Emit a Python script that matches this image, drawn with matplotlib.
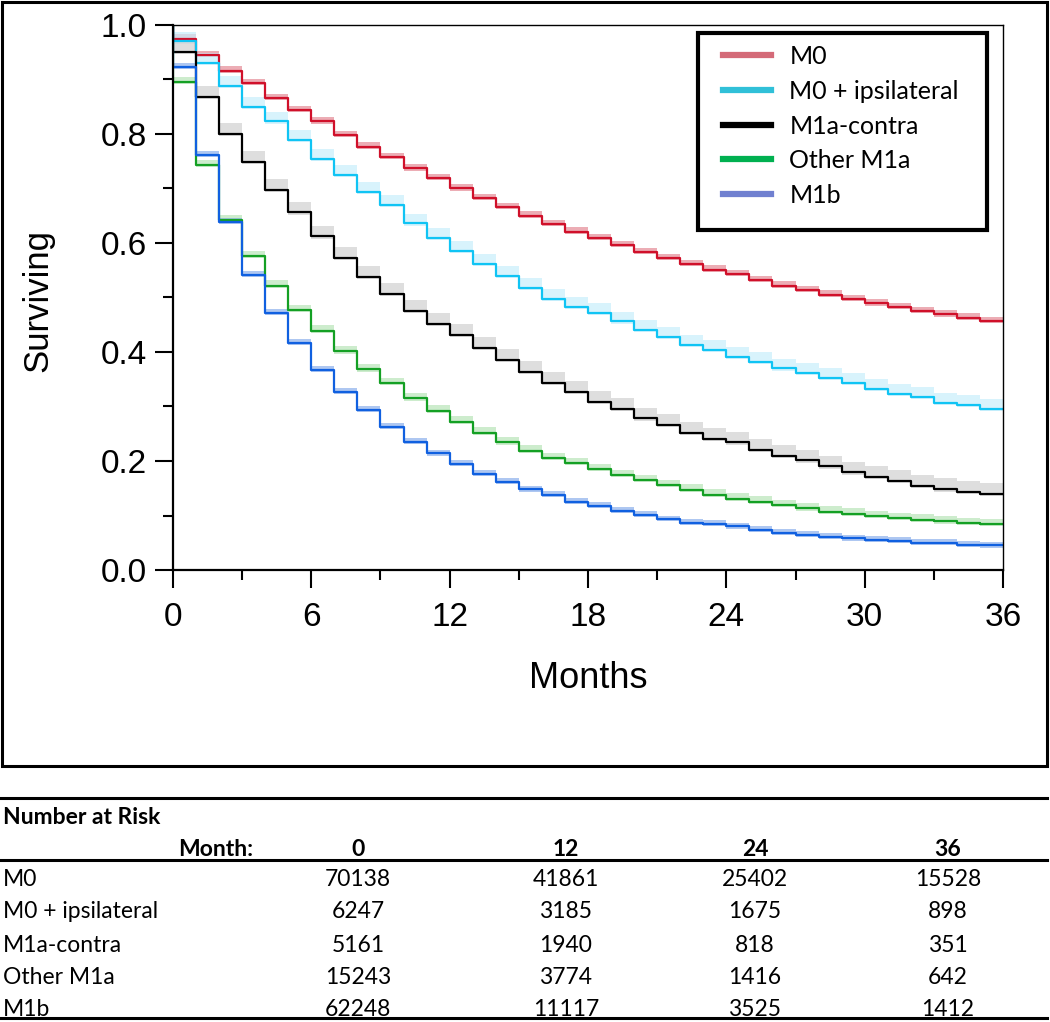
import numpy as np
import matplotlib
matplotlib.use("Agg")
import matplotlib.pyplot as plt
from matplotlib.lines import Line2D
from matplotlib.patches import Rectangle

# survival per monthly interval [k, k+1)
m0 = [0.975, 0.945, 0.916, 0.893, 0.866, 0.844, 0.823, 0.798, 0.777, 0.758, 0.737, 0.719,
      0.700, 0.682, 0.666, 0.650, 0.635, 0.621, 0.609, 0.596, 0.583, 0.572, 0.561, 0.551,
      0.543, 0.532, 0.522, 0.514, 0.505, 0.497, 0.489, 0.482, 0.475, 0.469, 0.463, 0.457]
m0_ipsi = [0.970, 0.930, 0.888, 0.849, 0.823, 0.789, 0.755, 0.725, 0.694, 0.670, 0.636, 0.609,
           0.586, 0.561, 0.539, 0.517, 0.498, 0.483, 0.471, 0.456, 0.440, 0.428, 0.413, 0.404,
           0.391, 0.382, 0.370, 0.362, 0.352, 0.343, 0.333, 0.323, 0.317, 0.307, 0.303, 0.295]
m1a_contra = [0.950, 0.868, 0.800, 0.749, 0.698, 0.656, 0.612, 0.572, 0.538, 0.507, 0.476, 0.451,
              0.432, 0.407, 0.385, 0.364, 0.344, 0.327, 0.309, 0.295, 0.278, 0.266, 0.251, 0.241,
              0.234, 0.221, 0.209, 0.201, 0.190, 0.179, 0.171, 0.163, 0.155, 0.148, 0.144, 0.139]
other_m1a = [0.895, 0.743, 0.642, 0.576, 0.522, 0.477, 0.439, 0.401, 0.368, 0.343, 0.315, 0.292,
             0.272, 0.252, 0.234, 0.219, 0.205, 0.196, 0.185, 0.174, 0.165, 0.156, 0.147, 0.138,
             0.131, 0.125, 0.119, 0.113, 0.107, 0.103, 0.099, 0.095, 0.092, 0.089, 0.086, 0.084]
m1b = [0.923, 0.761, 0.639, 0.542, 0.472, 0.416, 0.367, 0.327, 0.294, 0.263, 0.235, 0.214,
       0.195, 0.176, 0.162, 0.148, 0.138, 0.125, 0.117, 0.109, 0.101, 0.093, 0.087, 0.084,
       0.080, 0.073, 0.068, 0.064, 0.061, 0.058, 0.055, 0.053, 0.050, 0.049, 0.046, 0.045]

labels = ["M0", "M0 + ipsilateral", "M1a-contra", "Other M1a", "M1b"]
series = [m0, m0_ipsi, m1a_contra, other_m1a, m1b]
band = [0.008, 0.018, 0.020, 0.010, 0.007]   # approx CI width

line_cols = ["#d0102a", "#10c4f4", "#000000", "#14a024", "#1060e0"]
band_cols = ["#e48a96", "#c8eefc", "#d0d0d0", "#b8e4b8", "#8cb0ec"]
leg_cols = ["#d46a78", "#30c0d8", "#000000", "#00b050", "#7080d0"]

risk_months = ["0", "12", "24", "36"]
risk = {
    "M0": [70138, 41861, 25402, 15528],
    "M0 + ipsilateral": [6247, 3185, 1675, 898],
    "M1a-contra": [5161, 1940, 818, 351],
    "Other M1a": [15243, 3774, 1416, 642],
    "M1b": [62248, 11117, 3525, 1412],
}

W, H = 1050, 1022
fig = plt.figure(figsize=(W / 100, H / 100), dpi=100)

def fx(px):
    return px / W

def fy(py):
    return 1 - py / H

ax = fig.add_axes([fx(173), fy(570), fx(1003) - fx(173), fy(25) - fy(570)])

t = np.arange(0, 37)
for s, lab, lc, bc, w in zip(series, labels, line_cols, band_cols, band):
    s = np.array(s)
    sv = np.append(s, s[-1])
    ax.fill_between(t, sv - 0.004, sv + w, step="post", color=bc, alpha=0.7, lw=0)
    ax.step(np.concatenate([[0], t]), np.concatenate([[1.0], sv]), where="post",
            color=lc, lw=1.6)

ax.set_xlim(0, 36)
ax.set_ylim(0, 1)
ax.set_xticks(np.arange(0, 37, 6))
ax.set_xticks(np.arange(3, 36, 6), minor=True)
ax.set_yticks(np.arange(0, 1.01, 0.2))
ax.set_yticks(np.arange(0.1, 1.0, 0.2), minor=True)
ax.set_yticklabels(["0.0", "0.2", "0.4", "0.6", "0.8", "1.0"])
for sp in ["left", "bottom"]:
    ax.spines[sp].set_linewidth(1.6)
for sp in ["top", "right"]:
    ax.spines[sp].set_linewidth(1.0)
ax.tick_params(which="major", direction="out", length=13, width=1.5,
               labelsize=24, pad=6)
ax.tick_params(axis="x", which="major", pad=10)
ax.tick_params(which="minor", direction="out", length=7, width=1.5)
for lbl in ax.get_xticklabels() + ax.get_yticklabels():
    lbl.set_family("Liberation Sans")

fig.text(fx(38), fy(300), "Surviving", rotation=90, ha="center", va="center",
         fontsize=25, family="Liberation Sans")
fig.text(fx(588), fy(679), "Months", ha="center", va="center",
         fontsize=26, family="Liberation Sans")

# legend box drawn separately so it keeps its empty bottom margin
fig.patches.append(Rectangle((fx(698), fy(230)), fx(987) - fx(698), fy(33) - fy(230),
                             transform=fig.transFigure, fc="white",
                             lw=3.0, ec="black", zorder=2))
handles = [Line2D([], [], color=c, lw=4.5) for c in leg_cols]
leg = fig.legend(handles, labels, loc="upper left",
                 bbox_to_anchor=(fx(723), fy(45)),
                 prop={"family": "Lato", "size": 18}, frameon=False,
                 handlelength=1.9, handletextpad=0.75, labelspacing=0.47,
                 borderpad=0, borderaxespad=0)
leg.set_zorder(3)

# outer frame around the plot
fig.patches.append(Rectangle((fx(2), fy(766)), fx(1047) - fx(2), fy(2) - fy(766),
                             transform=fig.transFigure, fill=False, lw=2.2, ec="black"))

# number at risk table
for py in [798, 860, 1018]:
    fig.lines.append(Line2D([0, fx(1047)], [fy(py), fy(py)], transform=fig.transFigure,
                            color="black", lw=2.2))
tfont = dict(family="Lato", fontsize=16.5)
fig.text(fx(3), fy(817), "Number at Risk", ha="left", va="center", weight="bold", **tfont)
fig.text(fx(253), fy(849), "Month:", ha="right", va="center", weight="bold", **tfont)
col_x = [358, 566, 755, 948]
for cx, m in zip(col_x, risk_months):
    fig.text(fx(cx), fy(849), m, ha="center", va="center", weight="bold", **tfont)
row_y = [880, 912, 945, 977, 1009]
for ry, lab in zip(row_y, labels):
    fig.text(fx(3), fy(ry), lab, ha="left", va="center", **tfont)
    for cx, v in zip(col_x, risk[lab]):
        fig.text(fx(cx), fy(ry), str(v), ha="center", va="center", **tfont)

fig.savefig("out.png", dpi=100)
